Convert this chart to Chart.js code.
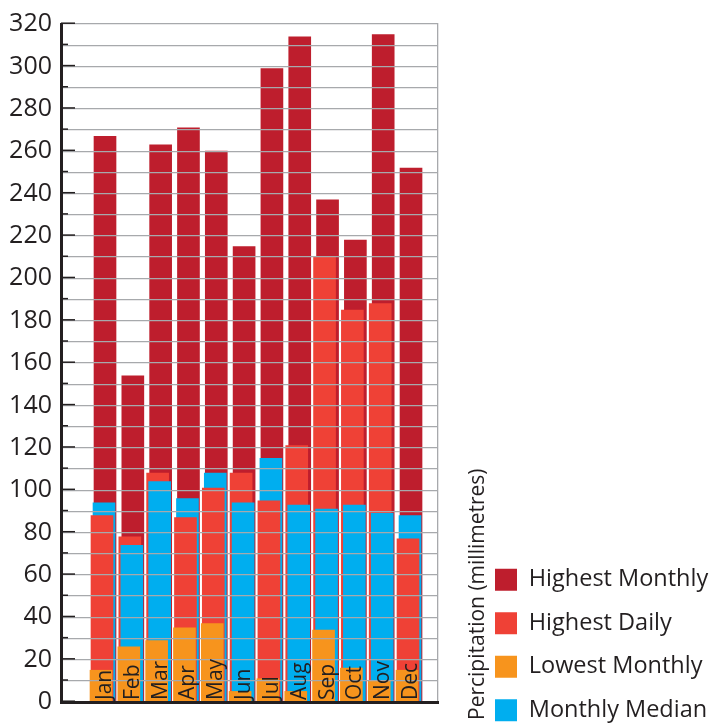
<!DOCTYPE html>
<html>
<head>
<meta charset="utf-8">
<script src="https://cdn.jsdelivr.net/npm/chart.js@4/dist/chart.umd.min.js"></script>
<style>
  html, body { margin: 0; padding: 0; background: #ffffff; }
  #wrap { width: 712px; height: 726px; }
</style>
</head>
<body>
<div id="wrap"><canvas id="c" width="712" height="726"></canvas></div>
<script>
// ---- data ----
const months = ['Jan', 'Feb', 'Mar', 'Apr', 'May', 'Jun', 'Jul', 'Aug', 'Sep', 'Oct', 'Nov', 'Dec'];
const highestMonthly = [267, 154, 263, 271, 260, 215, 299, 314, 237, 218, 315, 252];
const highestDaily   = [88, 78, 108, 87, 101, 108, 95, 121, 210, 185, 188, 77];
const lowestMonthly  = [15, 26, 29, 35, 37, 5, 11, 5, 34, 16, 10, 15];
const monthlyMedian  = [94, 74, 104, 96, 108, 94, 115, 93, 91, 93, 89, 88];
const seriesNames = ['Highest Monthly', 'Highest Daily', 'Lowest Monthly', 'Monthly Median'];
const yAxisTitle = 'Percipitation (millimetres)';
const yMin = 0, yMax = 320, yStep = 10, yLabelStep = 20;

// ---- styles ----
const colors = ['#be1e2d', '#ef4136', '#f7941d', '#00aeef'];
const barShift = [0, -3, -4, -1];          // small horizontal offset per series (px)
const ink = '#231f20';
const gridGray = '#a7a9ac';
const FONT = "'Open Sans', 'Noto Sans', sans-serif";

const seriesValues = [highestMonthly, highestDaily, lowestMonthly, monthlyMedian];
const datasets = seriesValues.map((vals, d) => ({
  label: seriesNames[d],
  data: months.map((m, i) => ({ x: i, y: vals[i] })),
  backgroundColor: colors[d],
  borderWidth: 0,
  barThickness: 22,
  grouped: false
}));

// draw bars per month, tallest at the back, smallest in front
const layeredBars = {
  id: 'layeredBars',
  beforeDatasetsDraw(chart) {
    const ctx = chart.ctx, a = chart.chartArea;
    const items = [];
    chart.data.datasets.forEach((ds, d) => {
      if (!chart.isDatasetVisible(d)) return;
      chart.getDatasetMeta(d).data.forEach((el, i) => items.push({ el, i, d, v: ds.data[i].y }));
    });
    items.sort((p, q) => (p.i - q.i) || (q.v - p.v));
    ctx.save();
    ctx.beginPath();
    ctx.rect(a.left - 6, a.top, a.right - a.left + 6, a.bottom - a.top);
    ctx.clip();
    items.forEach(it => {
      ctx.save();
      ctx.translate(barShift[it.d], 0);
      it.el.draw(ctx);
      ctx.restore();
    });
    ctx.restore();
    return false;
  }
};

// inward tick marks, month labels, axis title, legend placement
const decorations = {
  id: 'decorations',
  afterLayout(chart) {
    const lg = chart.legend;
    if (lg) {
      lg.left = 475; lg.right = chart.width;
      lg.top = 0; lg.bottom = 742;
      lg.width = lg.right - lg.left; lg.height = lg.bottom - lg.top;
    }
  },
  afterDraw(chart) {
    const ctx = chart.ctx, a = chart.chartArea;
    const ys = chart.scales.y, xs = chart.scales.x;
    ctx.save();
    ctx.strokeStyle = ink;
    ctx.lineWidth = 1.5;
    for (let v = yMin; v <= yMax; v += yStep) {
      const y = ys.getPixelForValue(v) - 0.8;
      const len = (v % yLabelStep === 0) ? 14 : 7;
      ctx.beginPath();
      ctx.moveTo(a.left, y);
      ctx.lineTo(a.left + len, y);
      ctx.stroke();
    }
    ctx.fillStyle = ink;
    ctx.font = '21px ' + FONT;
    ctx.textAlign = 'left';
    ctx.textBaseline = 'middle';
    months.forEach((m, i) => {
      const x = xs.getPixelForValue(i);
      ctx.save();
      ctx.translate(x, a.bottom - 2);
      ctx.rotate(-Math.PI / 2);
      ctx.fillText(m, 0, 0);
      ctx.restore();
    });
    ctx.font = '21px ' + FONT;
    ctx.save();
    ctx.translate(478, 720);
    ctx.rotate(-Math.PI / 2);
    ctx.fillText(yAxisTitle, 0, 0);
    ctx.restore();
    ctx.restore();
  }
};

new Chart(document.getElementById('c'), {
  type: 'bar',
  data: { labels: months, datasets },
  plugins: [layeredBars, decorations],
  options: {
    responsive: false,
    devicePixelRatio: 1,
    animation: false,
    events: [],
    layout: { padding: { top: 23, left: 0, right: 0, bottom: 0 } },
    scales: {
      x: {
        type: 'linear',
        offset: false,
        bounds: 'ticks',
        min: -1.582,
        max: 11.97,
        ticks: { display: false },
        grid: { display: false, drawTicks: false, offset: false },
        border: { display: true, color: ink, width: 3, z: 2 },
        afterFit(s) { s.height = 7; }
      },
      y: {
        min: yMin,
        max: yMax,
        ticks: {
          stepSize: yStep,
          autoSkip: false,
          padding: 9,
          color: ink,
          font: { family: FONT, size: 25 },
          callback: v => (v % yLabelStep === 0 ? String(v) : '')
        },
        grid: { color: gridGray, lineWidth: 1.2, drawTicks: false, z: 1 },
        border: { display: true, color: ink, width: 3, z: 2 },
        afterFit(s) { s.width = 61; }
      },
      y2: {
        type: 'linear',
        position: 'right',
        display: true,
        ticks: { display: false },
        grid: { display: false, drawTicks: false },
        border: { display: true, color: gridGray, width: 1.3 },
        afterFit(s) {
          const lw = s.chart.legend ? s.chart.legend.width : 0;
          s.width = Math.max(0, s.chart.width - 438 - lw);
        }
      }
    },
    plugins: {
      legend: {
        display: true,
        position: 'right',
        align: 'end',
        labels: {
          boxWidth: 22,
          boxHeight: 22,
          padding: 20,
          color: ink,
          font: { family: FONT, size: 23.5 }
        }
      },
      tooltip: { enabled: false }
    }
  }
});
</script>
</body>
</html>
